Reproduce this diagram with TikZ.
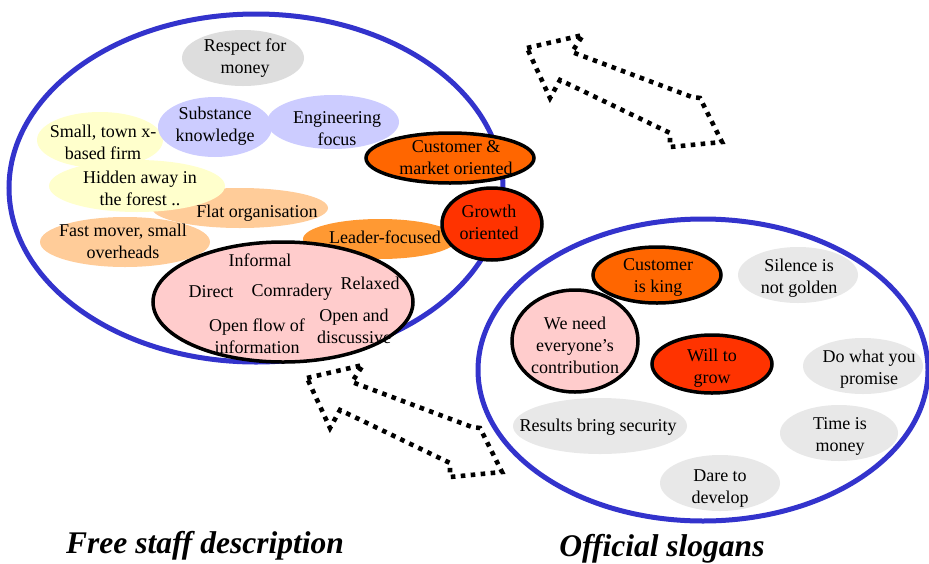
\documentclass[tikz,border=0pt]{standalone}
\usepackage{fontspec}
\setmainfont{Liberation Serif}
\definecolor{ringblue}{HTML}{3333CC}
\definecolor{grayA}{HTML}{DDDDDD}
\definecolor{grayB}{HTML}{E8E8E8}
\definecolor{lav}{HTML}{CCCCFF}
\definecolor{yel}{HTML}{FFFFCC}
\definecolor{peach}{HTML}{FFCC99}
\definecolor{leadc}{HTML}{FF9933}
\definecolor{orgc}{HTML}{FF6600}
\definecolor{redc}{HTML}{FF3300}
\definecolor{pinkc}{HTML}{FFCCCC}
\tikzset{
  ring/.style={draw=ringblue, line width=5pt},
  bord/.style={draw=black, line width=3.5pt},
  txt/.style={font=\fontsize{18}{22}\selectfont, align=center, inner sep=0pt},
  titletxt/.style={font=\fontsize{31.5}{36}\selectfont\bfseries\itshape, inner sep=0pt},
  dotline/.style={draw=black, line width=4.6pt, dash pattern=on 4.6pt off 5.4pt, line join=miter},
}
\newcommand\myblob[9]{%
  \path[#6] (#2,#3) ellipse [x radius=#4pt, y radius=#5pt];
  \node[txt] (#1) at (#7,#8) {#9};}
\begin{document}
\begin{tikzpicture}[x=1pt,y=-1pt]
\useasboundingbox (0,0) rectangle (929,563);
\fill[white] (0,0) rectangle (929,563);

% big rings
\draw[ring] (256,188) ellipse [x radius=247pt, y radius=174pt];
\draw[ring] (703,370) ellipse [x radius=225pt, y radius=151pt];

% dotted arrows
\foreach \dx/\dy in {0/0,-220/330}{
  \begin{scope}[shift={(\dx,\dy)}]
    \draw[dotline] (527,48) -- (583,35) -- (572,52) -- (692,97) -- (700,98)
      -- (722,142) -- (670,147) -- (670,133) -- (560,80) -- (550,98) -- cycle;
  \end{scope}
}

% left group
\myblob{respect}{243}{58}{61}{28}{fill=grayA}{245}{58}{Respect for\\money}
\myblob{small}{100}{140}{63}{28}{fill=yel}{103}{142}{Small, town x-\\based firm}
\myblob{subst}{215}{127}{57}{30}{fill=lav}{215}{126}{Substance\\knowledge}
\myblob{eng}{333}{122}{66}{27}{fill=lav}{337}{129}{Engineering\\focus}
\myblob{flat}{240}{208}{88}{20}{fill=peach}{257}{213}{Flat organisation}
\myblob{hidden}{137}{186}{88}{26}{fill=yel}{140}{188}{Hidden away in\\the forest ..}
\myblob{fast}{125}{242}{85}{25}{fill=peach}{123}{241}{Fast mover, small\\overheads}
\myblob{leader}{380}{239}{77}{20}{fill=leadc}{385}{237}{Leader-focused}

\path[fill=pinkc, bord] (283,302) ellipse [x radius=130pt, y radius=60pt];
\node[txt] (informal) at (260,260) {Informal};
\node[txt] (direct) at (211,292) {Direct};
\node[txt] (comradery) at (292,292) {Comradery};
\node[txt] (relaxed) at (370,283) {Relaxed};
\node[txt] (openflow) at (257,336) {Open flow of\\information};
\node[txt] (openand) at (354,326) {Open and\\discussive};

\myblob{cust}{450}{158}{84}{25}{fill=orgc, bord}{456}{158}{Customer \&\\market oriented}
\myblob{growth}{492}{224}{50}{36}{fill=redc, bord}{489}{222}{Growth\\oriented}

% right group
\myblob{cking}{657}{275}{64}{28}{fill=orgc, bord}{658}{277}{Customer\\is king}
\myblob{silence}{798}{275}{60}{28}{fill=grayB}{799}{278}{Silence is\\not golden}
\myblob{weneed}{575}{341}{63}{51}{fill=pinkc, bord}{575}{345}{We need\\everyone’s\\contribution}
\myblob{will}{712}{364}{60}{29}{fill=redc, bord}{712}{368}{Will to\\grow}
\myblob{dowhat}{863}{366}{60}{28}{fill=grayB}{869}{369}{Do what you\\promise}
\myblob{results}{600}{426}{87}{28}{fill=grayB}{598}{427}{Results bring security}
\myblob{time}{839}{433}{59}{28}{fill=grayB}{840}{436}{Time is\\money}
\myblob{dare}{720}{483}{60}{28}{fill=grayB}{720}{489}{Dare to\\develop}

% titles
\node[titletxt] (t1) at (205,546) {Free staff description};
\node[titletxt] (t2) at (662,549) {Official slogans};
\end{tikzpicture}
\end{document}
